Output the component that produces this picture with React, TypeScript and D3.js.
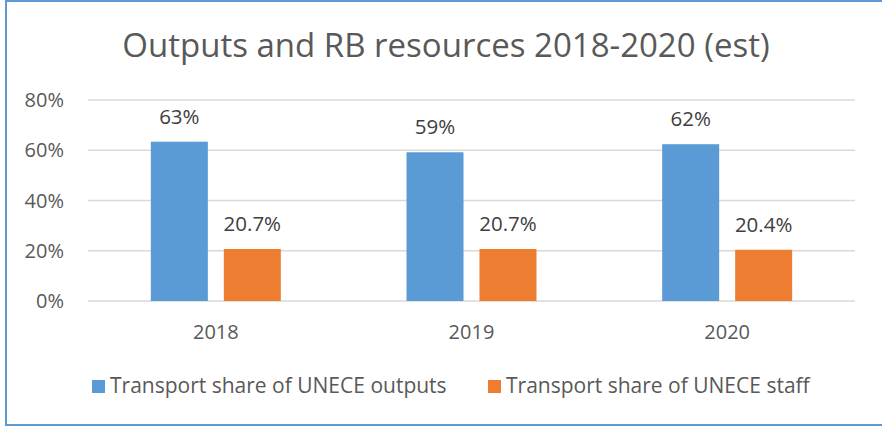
import React from "react";
import * as d3 from "d3";

const categories = ["2018", "2019", "2020"];
const seriesNames = ["Transport share of UNECE outputs", "Transport share of UNECE staff"];
const outputsShare = [0.634, 0.592, 0.624];
const staffShare = [0.207, 0.207, 0.204];
const yTicks = [0, 0.2, 0.4, 0.6, 0.8];
const colors = ["#5B9BD5", "#ED7D31"];

const W = 882;
const H = 426;
const FONT = "'Open Sans', sans-serif";

export default function App() {
  const plotLeft = 88;
  const plotRight = 855;
  const plotTop = 100;
  const plotBottom = 301;

  const y = d3.scaleLinear().domain([0, 0.8]).range([plotBottom, plotTop]);
  const x0 = d3.scaleBand<string>().domain(categories).range([plotLeft, plotRight]).padding(0);
  const x1 = d3
    .scaleBand<string>()
    .domain(seriesNames)
    .range([0, x0.bandwidth()])
    .paddingInner(0.219)
    .paddingOuter(0.861);

  const seriesValues = [outputsShare, staffShare];
  const fmt = [d3.format(".0%"), d3.format(".1%")];
  const yFmt = d3.format(".0%");

  return (
    <div style={{ position: "fixed", left: 0, top: 0 }}>
      <svg width={W} height={H} style={{ display: "block", background: "#fff" }}>
        <rect x={0} y={0} width={W} height={H} fill="#fff" />
        {/* frame */}
        <line x1={6} x2={6} y1={0} y2={H} stroke="#5B9BD5" strokeWidth={2} />
        <line x1={5} x2={W} y1={1} y2={1} stroke="#5B9BD5" strokeWidth={2} />
        <line x1={5} x2={W} y1={425} y2={425} stroke="#5B9BD5" strokeWidth={2} />

        <text
          x={446}
          y={57}
          textAnchor="middle"
          fontFamily={FONT}
          fontSize={33}
          fill="#595959"
        >
          Outputs and RB resources 2018-2020 (est)
        </text>

        {yTicks.map((t) => (
          <g key={t}>
            <line
              x1={plotLeft}
              x2={plotRight}
              y1={y(t)}
              y2={y(t)}
              stroke="#D9D9D9"
              strokeWidth={1.5}
            />
            <text
              x={64}
              y={y(t) + 7}
              textAnchor="end"
              fontFamily={FONT}
              fontSize={20}
              fill="#595959"
            >
              {yFmt(t)}
            </text>
          </g>
        ))}

        {categories.map((c, i) => (
          <g key={c} transform={`translate(${x0(c)},0)`}>
            {seriesNames.map((s, si) => {
              const v = seriesValues[si][i];
              const bx = x1(s) as number;
              return (
                <g key={s}>
                  <rect
                    x={bx}
                    y={y(v)}
                    width={x1.bandwidth()}
                    height={y(0) - y(v)}
                    fill={colors[si]}
                  />
                  <text
                    x={bx + x1.bandwidth() / 2}
                    y={y(v) - 18}
                    textAnchor="middle"
                    fontFamily={FONT}
                    fontSize={20.5}
                    fill="#404040"
                  >
                    {fmt[si](v)}
                  </text>
                </g>
              );
            })}
            <text
              x={x0.bandwidth() / 2}
              y={339}
              textAnchor="middle"
              fontFamily={FONT}
              fontSize={20}
              fill="#595959"
            >
              {c}
            </text>
          </g>
        ))}

        {/* legend */}
        {seriesNames.map((s, si) => {
          const lx = si === 0 ? 92 : 488;
          return (
            <g key={s}>
              <rect x={lx} y={380} width={13} height={13} fill={colors[si]} />
              <text
                x={lx + 18}
                y={393}
                fontFamily={FONT}
                fontSize={21}
                fill="#595959"
              >
                {s}
              </text>
            </g>
          );
        })}
      </svg>
    </div>
  );
}
